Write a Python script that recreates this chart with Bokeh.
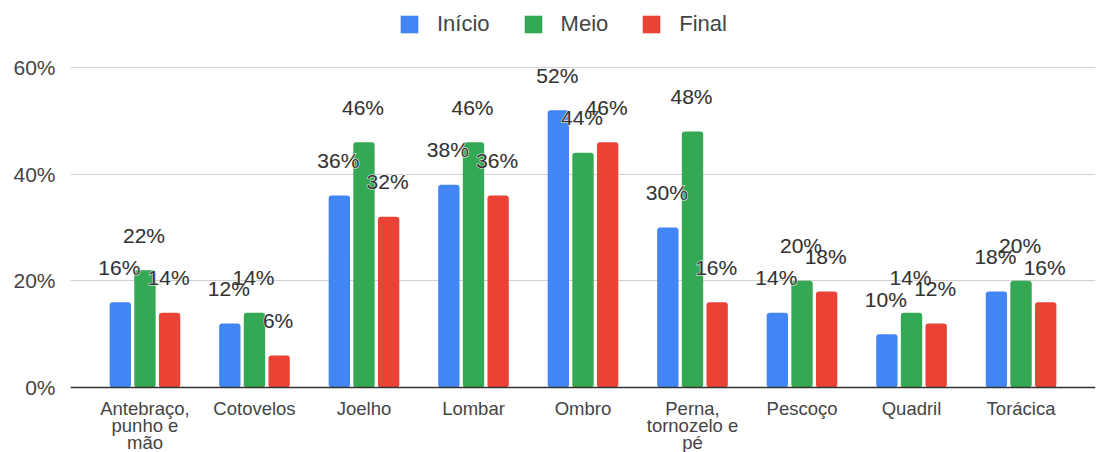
from bokeh.plotting import figure
from bokeh.models import (ColumnDataSource, FactorRange, FixedTicker, Range1d,
                          NumeralTickFormatter, Legend, LegendItem, Span)
from bokeh.transform import dodge
from bokeh.core.properties import value
from bokeh.embed import file_html
from bokeh.resources import INLINE

categories = ["Antebraço, punho e mão", "Cotovelos", "Joelho", "Lombar", "Ombro",
              "Perna, tornozelo e pé", "Pescoço", "Quadril", "Torácica"]
# category labels as shown, one list per text line
tick_line1 = ["Antebraço,", "Cotovelos", "Joelho", "Lombar", "Ombro",
              "Perna,", "Pescoço", "Quadril", "Torácica"]
tick_line2 = ["punho e", "", "", "", "", "tornozelo e", "", "", ""]
tick_line3 = ["mão", "", "", "", "", "pé", "", "", ""]
series_names = ["Início", "Meio", "Final"]
inicio = [16, 12, 36, 38, 52, 30, 14, 10, 18]
meio = [22, 14, 46, 46, 44, 48, 20, 14, 20]
final = [14, 6, 32, 36, 46, 16, 18, 12, 16]
y_ticks = [0, 0.2, 0.4, 0.6]

colors = ["#4285F4", "#34A853", "#EA4335"]
offsets = [-0.225, 0.0, 0.225]
FONT = "Liberation Sans"
keys = ["inicio", "meio", "final"]

data = dict(cat=categories, l1=tick_line1, l2=tick_line2, l3=tick_line3)
for key, vals in zip(keys, [inicio, meio, final]):
    data[key] = [v / 100 for v in vals]
    data[key + "_lbl"] = [f"{v}%" for v in vals]
src = ColumnDataSource(data)

# frame covers the whole page height: 0% sits 387px from top, 60% at 67px
W, H = 1107, 452
ZERO_PX, TOP_PX = 387, 67
per_px = max(y_ticks) / (ZERO_PX - TOP_PX)
y_range = Range1d(-(H - ZERO_PX) * per_px, ZERO_PX * per_px)

p = figure(x_range=FactorRange(factors=categories, range_padding=0.04),
           y_range=y_range, width=W, height=H,
           output_backend="svg", toolbar_location=None,
           min_border_left=70, min_border_right=12,
           min_border_top=0, min_border_bottom=0)
p.outline_line_color = None
p.background_fill_color = "white"
p.border_fill_color = "white"
p.xgrid.grid_line_color = None
p.ygrid.grid_line_color = "#d0d0d0"
p.ygrid.grid_line_width = 1
p.ygrid.ticker = FixedTicker(ticks=y_ticks)

renderers = []
for key, off, col in zip(keys, offsets, colors):
    r = p.vbar(x=dodge("cat", off, range=p.x_range), top=key, width=0.195,
               source=src, fill_color=col, line_color=None, border_radius=3)
    renderers.append(r)

p.add_layout(Span(location=0, dimension="width", line_color="#333333", line_width=1.5))

for outline in (True, False):
    for key, off in zip(keys, offsets):
        kw = dict(text_outline_color="white") if outline else {}
        p.text(x=dodge("cat", off, range=p.x_range), y=key, text=key + "_lbl", source=src,
               text_align="center", text_baseline="middle", y_offset=-35, x_offset=-1,
               text_font=value(FONT), text_font_size="21px", text_color="#333333", **kw)

# category labels (multi-line) under the baseline
for i, col in enumerate(["l1", "l2", "l3"]):
    p.text(x="cat", y=0, text=col, source=src, text_align="center",
           text_baseline="middle", y_offset=21 + 17 * i,
           text_font=value(FONT), text_font_size="18.5px", text_color="#444444")

p.xaxis.visible = False
p.yaxis.ticker = FixedTicker(ticks=y_ticks)
p.yaxis.formatter = NumeralTickFormatter(format="0%")
ax = p.yaxis[0]
ax.axis_line_color = None
ax.major_tick_line_color = None
ax.minor_tick_line_color = None
ax.major_tick_out = 0
ax.major_tick_in = 0
ax.major_label_text_font = FONT
ax.major_label_text_font_size = "21px"
ax.major_label_text_color = "#444444"
ax.major_label_standoff = 15

legend = Legend(items=[LegendItem(label=n, renderers=[r]) for n, r in zip(series_names, renderers)],
                orientation="horizontal", location=(328, 415),
                border_line_color=None, background_fill_alpha=0,
                glyph_width=22, glyph_height=22, label_standoff=17, spacing=32,
                padding=0, margin=0, label_text_font=FONT,
                label_text_font_size="22px", label_text_color="#444444")
p.add_layout(legend, "center")

open("out.html", "w").write(file_html(p, INLINE))
